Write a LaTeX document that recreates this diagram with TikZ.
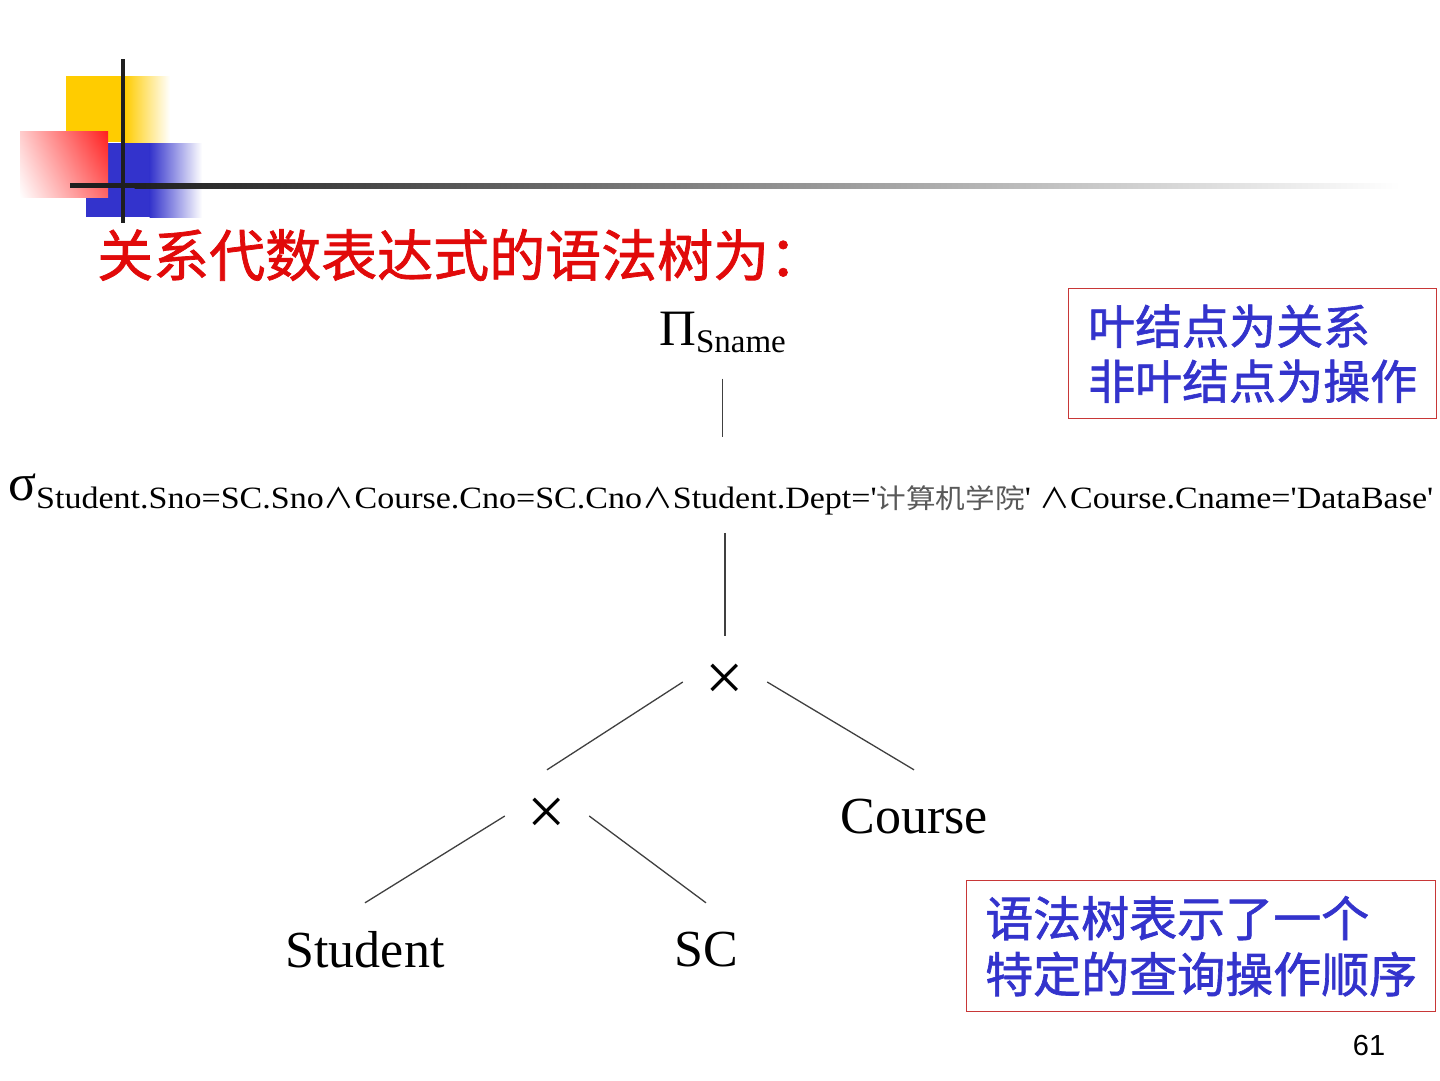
\documentclass[tikz,border=0pt]{standalone}
\usepackage{fontspec}
\usepackage{graphicx}
\usetikzlibrary{shadings}
\setmainfont{Liberation Serif}
\newfontfamily\tnr{Liberation Serif}
\newfontfamily\cjk{Noto Sans CJK SC}
\newfontfamily\cjkh{Noto Sans CJK SC}[FakeBold=1.3]
\newfontfamily\pagef{Liberation Sans}
\definecolor{decoyellow}{RGB}{255,204,0}
\definecolor{decoblue}{RGB}{51,51,204}
\definecolor{decored}{RGB}{255,30,30}
\definecolor{titlered}{RGB}{225,10,10}
\definecolor{noteblue}{RGB}{51,51,204}
\definecolor{noteframe}{RGB}{200,55,55}
\newcommand{\andop}{{\cjk\fontsize{28}{28}\selectfont ∧}}
\tikzset{
  treeline/.style={line width=1.3pt, black!75},
  opnode/.style={inner sep=0pt, minimum width=84pt, minimum height=92pt,
                 font=\tnr\fontsize{68}{68}\selectfont},
  leafnode/.style={inner sep=0pt, minimum height=94pt,
                   font=\tnr\fontsize{52}{52}\selectfont},
  notebox/.style={draw=noteframe, line width=1.4pt, inner sep=0pt, align=left,
                  text=noteblue},
}
\begin{document}
\begin{tikzpicture}[x=1pt,y=-1pt]
\useasboundingbox (0,0) rectangle (1440,1080);
\fill[white] (0,0) rectangle (1440,1080);

% corner ornament
\fill[decoyellow] (66,76) rectangle (125,142);
\shade[left color=decoyellow, right color=white] (124.5,76) rectangle (170,142);
\fill[decoblue] (86,143) rectangle (150,217);
\shade[left color=decoblue, right color=white] (149.5,143) rectangle (202,217);
\shade[upper right=decored, upper left=red!20, lower right=red!60, lower left=white]
  (20,131) rectangle (108,197);
\fill[black!88] (120.5,59) rectangle (125,223);
\fill[black!88] (70,183) rectangle (135,188);
\shade[left color=black!88, middle color=black!40, right color=white]
  (134.5,183) rectangle (1400,188);

% heading
\node[anchor=west, inner sep=0pt, text=titlered, font=\cjkh\fontsize{56}{56}\selectfont]
  (title) at (97,255) {关系代数表达式的语法树为：};

% syntax tree
\node[anchor=base west, inner sep=0pt, font=\tnr] (pi) at (659,345)
  {\fontsize{51}{51}\selectfont Π\raisebox{-7pt}{\fontsize{33}{33}\selectfont Sname}};

\node[anchor=base west, inner sep=0pt, font=\tnr] (sigma) at (8,500)
  {\fontsize{52}{52}\selectfont σ\raisebox{-8pt}{\resizebox{1397pt}{\height}{\fontsize{31}{31}\selectfont
   Student.Sno=SC.Sno\andop Course.Cno=SC.Cno\andop Student.Dept='{\cjk\color{black!65}\fontsize{27}{27}\selectfont 计算机学院}'
   \andop Course.Cname='DataBase'}}};

\node[opnode] (prod1) at (725,682) {×};
\node[opnode] (prod2) at (547,816) {×};
\node[leafnode] (course) at (914,817) {Course};
\node[leafnode] (student) at (365,950) {Student};
\node[leafnode] (sc) at (706,950) {SC};

\draw[treeline, shorten <=26pt, shorten >=36pt] (pi.south) -- (pi.south |- sigma.north);
\draw[treeline, shorten <=18pt] (prod1.north |- sigma.south) -- (prod1.north);
\draw[treeline] (prod1.west) -- (prod2.north);
\draw[treeline] (prod1.east) -- (course.north);
\draw[treeline] (prod2.west) -- (student.north);
\draw[treeline] (prod2.east) -- (sc.north);

% notes
\node[notebox, anchor=north west, minimum width=368pt, minimum height=130pt,
      font=\cjkh\fontsize{47}{55}\selectfont] (note1) at (1068,288)
  {叶结点为关系\\非叶结点为操作};
\node[notebox, anchor=north west, minimum width=469pt, minimum height=131pt,
      font=\cjkh\fontsize{48}{56}\selectfont] (note2) at (966,880)
  {语法树表示了一个\\特定的查询操作顺序};

\node[inner sep=0pt, font=\pagef\fontsize{29}{29}\selectfont] (page) at (1369,1045) {61};
\end{tikzpicture}
\end{document}
